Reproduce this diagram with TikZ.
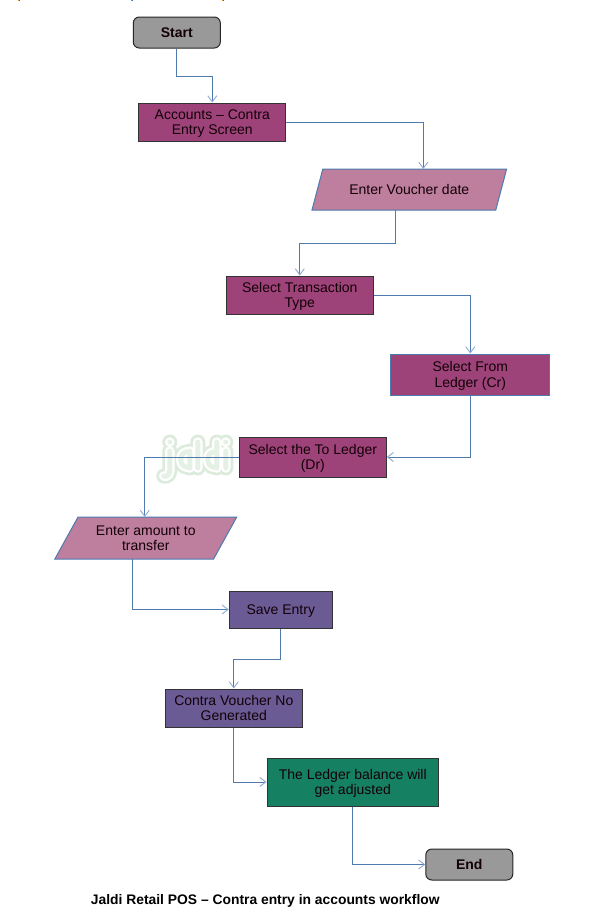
\documentclass[tikz,border=0pt]{standalone}
\usepackage{fontspec}
\setmainfont{Liberation Sans}
\usetikzlibrary{arrows.meta,shapes.geometric}
\definecolor{plum}{HTML}{9E437A}
\definecolor{pinkish}{HTML}{BE7E9E}
\definecolor{violet2}{HTML}{6B5B95}
\definecolor{teal2}{HTML}{168062}
\definecolor{grey2}{HTML}{999999}
\definecolor{linkc}{HTML}{4F7AB0}
\definecolor{tipc}{HTML}{8EAAD2}
\definecolor{wmark}{HTML}{DDEBDD}
\definecolor{wmarkin}{HTML}{E6F1E6}
\definecolor{speckA}{HTML}{E08A20}
\definecolor{speckB}{HTML}{3070B0}
\newcommand\boxtxt[1]{\vbox{\kern4pt\hbox{\begin{tabular}{@{}c@{}}#1\end{tabular}}}}
\tikzset{
  x=1pt,y=1pt,
  base/.style={inner sep=0pt,align=center,font=\fontsize{14}{15.5}\selectfont,text=black!90!purple},
  terminal/.style={base,draw=black!85,line width=1pt,fill=grey2,rounded corners=6pt,font=\fontsize{14}{15.5}\selectfont\bfseries},
  procbox/.style={base,draw=black!80,line width=1pt},
  plumbox/.style={procbox,fill=plum},
  bluebox/.style={procbox,fill=plum,draw=linkc},
  violetbox/.style={procbox,fill=violet2},
  greenbox/.style={procbox,fill=teal2},
  slantbox/.style={base,draw=linkc,line width=1pt,fill=pinkish,trapezium,trapezium stretches=true,
    trapezium left angle=56,trapezium right angle=124},
  link/.style={draw=linkc,line width=1pt,-{Straight Barb[length=6pt,width=9pt,color=tipc,line width=.9pt]}},
}
\begin{document}
\begin{tikzpicture}
\useasboundingbox (0.2,0) rectangle (590.2,-922);
\fill[white] (0.2,0) rectangle (590.2,-922);
% cut-off marks along the top edge
\foreach \sx in {18.5,131.2,222.3}{
  \fill[speckA] (\sx,0) rectangle ++(0.9,-1);
  \fill[speckB] (\sx+0.9,0) rectangle ++(0.9,-1);
}
% watermark
\foreach \w/\c in {15/wmark,9.5/white,5/wmarkin}{
  \draw[line width=\w pt,color=\c,line cap=round,line join=round]
    (170,-442) -- (170,-442.1)
    (170,-451) -- (170,-470) .. controls (170,-476) and (166,-477) .. (164,-476)
    (190,-451) -- (190,-468)
    (190,-452) .. controls (178,-449) and (178,-470) .. (190,-467)
    (198,-442) -- (198,-468)
    (217,-442) -- (217,-468)
    (217,-452) .. controls (205,-449) and (205,-470) .. (217,-467)
    (226,-442) -- (226,-442.1)
    (226,-451) -- (226,-468);
}
\node[terminal,minimum width=87pt,minimum height=31pt] (start) at (177,-32.5) {Start};
\node[plumbox,minimum width=147pt,minimum height=38pt] (acc) at (212.5,-122) {\boxtxt{Accounts – Contra\\Entry Screen}};
\node[slantbox,minimum width=195pt,minimum height=41pt] (voucher) at (409.5,-189.5) {\rule{0pt}{11pt}Enter Voucher date};
\node[plumbox,minimum width=147pt,minimum height=38pt] (trans) at (300,-295) {\boxtxt{Select Transaction\\Type}};
\node[bluebox,minimum width=159pt,minimum height=41pt] (from) at (470.5,-374.5) {\boxtxt{Select From\\Ledger (Cr)}};
\node[plumbox,minimum width=147pt,minimum height=40pt] (to) at (313,-457) {\boxtxt{Select the To Ledger\\(Dr)}};
\node[slantbox,minimum width=182pt,minimum height=42pt] (amount) at (146,-538) {Enter amount to\\transfer};
\node[violetbox,minimum width=103pt,minimum height=37pt] (save) at (281,-609.5) {\boxtxt{Save Entry}};
\node[violetbox,minimum width=137.5pt,minimum height=38pt] (contra) at (234,-708) {Contra Voucher No\\Generated};
\node[greenbox,minimum width=171.5pt,minimum height=48pt] (ledger) at (353,-782) {\boxtxt{The Ledger balance will\\get adjusted}};
\node[terminal,minimum width=87pt,minimum height=31pt] (end) at (469.5,-864.5) {End};
\node[inner sep=0pt,font=\fontsize{13.85}{16}\selectfont\bfseries] (title) at (265.5,-901) {Jaldi Retail POS – Contra entry in accounts workflow};
% named free ends on the slanted shapes
\coordinate (vin) at (423.5,-169);
\coordinate (vout) at (395.5,-210);
\coordinate (ain) at (145,-517);
\coordinate (aout) at (132.5,-559);
\draw[link] (start.south) -- (177,-76) -| (acc.north);
\draw[link] (acc.east) -| (vin);
\draw[link] (vout) -- (395.5,-243) -| (trans.north);
\draw[link] (trans.east) -| (from.north);
\draw[link] (from.south) |- (to.east);
\draw[link] (to.west) -| (ain);
\draw[link] (aout) |- (save.west);
\draw[link] (save.south) -- (281,-659) -| (contra.north);
\draw[link] (contra.south) |- (ledger.west);
\draw[link] (ledger.south) |- (end.west);
\end{tikzpicture}
\end{document}
